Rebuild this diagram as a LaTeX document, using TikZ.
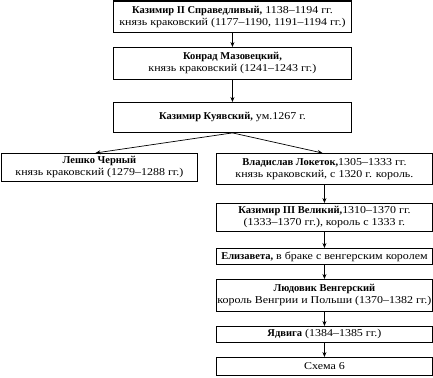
\documentclass[tikz,border=0pt]{standalone}
\usepackage{fontspec}
\setmainfont{Liberation Serif}[FakeStretch=1.14]
\newfontfamily\bfn{Liberation Serif}
\newcommand\nm[1]{{\bfn\bfseries #1}}
\usetikzlibrary{arrows.meta}
\begin{document}
\begin{tikzpicture}[x=1pt,y=-1pt,
  box/.style={draw,line width=0.9pt,inner sep=0pt,anchor=north west,align=center,
    font=\fontsize{10.5}{12}\selectfont},
  conn/.style={line width=0.7pt,-{Stealth[length=5pt,width=4pt]}}]
\useasboundingbox (0,0) rectangle (433,377);
\node[box,minimum width=238pt,minimum height=31pt] (b1) at (113,1)
  {\nm{Казимир II Справедливый,} 1138–1194 гг.\\князь краковский (1177–1190, 1191–1194 гг.)};
\draw[line width=2.5pt] (b1.north west) -- (b1.north east);
\node[box,minimum width=238pt,minimum height=32pt] (b2) at (113,47)
  {\nm{Конрад Мазовецкий,}\\князь краковский (1241–1243 гг.)};
\node[box,minimum width=238pt,minimum height=30pt] (b3) at (113,102)
  {\nm{Казимир Куявский,} ум.1267 г.};
\node[box,minimum width=196pt,minimum height=28pt] (les) at (1,153)
  {\nm{Лешко Черный}\\князь краковский (1279–1288 гг.)};
\node[box,minimum width=216pt,minimum height=31pt] (vla) at (216,153)
  {\nm{Владислав Локеток,}1305–1333 гг.\\князь краковский, с 1320 г. король.};
\node[box,minimum width=216pt,minimum height=28pt] (kaz) at (216,203)
  {\nm{Казимир III Великий,}1310–1370 гг.\\(1333–1370 гг.), король с 1333 г.};
\node[box,minimum width=216pt,minimum height=16pt] (eli) at (216,248)
  {\nm{Елизавета,} в браке с венгерским королем};
\node[box,minimum width=216pt,minimum height=32pt] (lud) at (216,279)
  {\nm{Людовик Венгерский}\\король Венгрии и Польши (1370–1382 гг.)};
\node[box,minimum width=216pt,minimum height=16pt] (yad) at (216,326)
  {\nm{Ядвига} (1384–1385 гг.)};
\node[box,minimum width=216pt,minimum height=18pt] (sch) at (216,357)
  {Схема 6};
\draw[conn] (b1) -- (b2);
\draw[conn] (b2) -- (b3);
\draw[conn] (b3.south) -- ([xshift=-4pt]les.north);
\draw[conn] (b3.south) -- ([xshift=-2pt]vla.north);
\draw[conn] (vla) -- (kaz);
\draw[conn] (kaz) -- (eli);
\draw[conn] (eli) -- (lud);
\draw[conn] (lud) -- (yad);
\draw[conn] (yad) -- (sch);
\end{tikzpicture}
\end{document}
